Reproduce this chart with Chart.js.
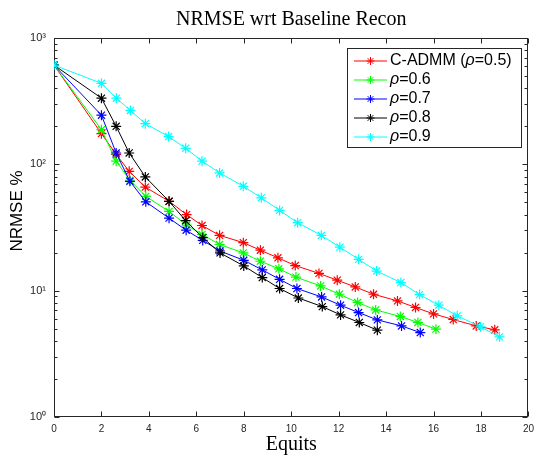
<!DOCTYPE html>
<html>
<head>
<meta charset="utf-8">
<script src="https://cdn.jsdelivr.net/npm/chart.js@4.4.0/dist/chart.umd.min.js"></script>
<style>
  html, body { margin: 0; padding: 0; background: #fff; }
  #wrap { width: 540px; height: 456px; }
</style>
</head>
<body>
<div id="wrap"><canvas id="nrmseChart" width="540" height="456"></canvas></div>
<script>
// data (x = equits, y = NRMSE %)
const seriesLabels = ["C-ADMM (ρ=0.5)", "ρ=0.6", "ρ=0.7", "ρ=0.8", "ρ=0.9"];
const seriesColors = ["#ff0000", "#00ff00", "#0000ff", "#000000", "#00ffff"];

const redX = [0, 2, 2.62, 3.17, 3.85, 4.85, 5.59, 6.24, 6.98, 7.98, 8.7, 9.44, 10.17, 11.17, 11.94, 12.7, 13.47, 14.48, 15.24, 16.0, 16.83, 17.8, 18.58];
const redY = [610, 175, 120, 88, 66, 51, 40, 32.8, 27.4, 24.0, 20.9, 18.2, 15.8, 13.7, 12.1, 10.7, 9.37, 8.3, 7.36, 6.55, 5.91, 5.26, 4.9];

const greenX = [0, 2, 2.62, 3.2, 3.87, 4.85, 5.59, 6.24, 6.98, 7.98, 8.7, 9.48, 10.2, 11.24, 12.03, 12.8, 13.56, 14.6, 15.34, 16.1];
const greenY = [610, 188, 106, 74.8, 55.8, 42.4, 33, 27.9, 23.2, 19.9, 17.1, 14.9, 12.8, 10.9, 9.37, 8.06, 7.04, 6.25, 5.6, 4.96];

const blueX = [0, 2, 2.62, 3.2, 3.87, 4.85, 5.57, 6.27, 7.0, 8.0, 8.78, 9.51, 10.24, 11.28, 12.08, 12.84, 13.63, 14.65, 15.44];
const blueY = [610, 245, 123, 73.4, 50.5, 37.5, 30.1, 25, 20.6, 17.4, 14.6, 12.3, 10.4, 8.92, 7.67, 6.71, 5.87, 5.26, 4.66];

const blackX = [0, 2, 2.62, 3.17, 3.85, 4.85, 5.55, 6.27, 7.0, 8.0, 8.78, 9.51, 10.3, 11.31, 12.08, 12.87, 13.63];
const blackY = [610, 334, 200, 123, 79.5, 51, 35.8, 26.3, 19.9, 15.7, 12.7, 10.4, 8.75, 7.48, 6.43, 5.6, 4.87];

const cyanX = [0, 2, 2.63, 3.22, 3.85, 4.83, 5.55, 6.24, 6.98, 7.98, 8.74, 9.51, 10.27, 11.27, 12.05, 12.84, 13.6, 14.62, 15.41, 16.22, 17.0, 17.98, 18.78];
const cyanY = [610, 438, 334, 267, 210, 166, 134, 106, 85.5, 67, 54.3, 43.2, 34.5, 27.4, 22.1, 17.7, 14.3, 11.6, 9.31, 7.67, 6.32, 5.17, 4.31];

const xTickValues = [0, 2, 4, 6, 8, 10, 12, 14, 16, 18, 20];
const yTickValues = [1, 10, 100, 1000];
const yTickLabels = ["10⁰", "10¹", "10²", "10³"];

const axisColor = "#262626";
const allX = [redX, greenX, blueX, blackX, cyanX];
const allY = [redY, greenY, blueY, blackY, cyanY];

const datasets = seriesLabels.map((label, i) => ({
    label,
    data: allX[i].map((x, j) => ({ x, y: allY[i][j] })),
    borderColor: seriesColors[i],
    backgroundColor: seriesColors[i],
    borderWidth: 1,
    pointStyle: "star",
    pointRadius: 5,
    pointBorderWidth: 1.2,
    pointBorderColor: seriesColors[i],
    tension: 0,
    order: seriesLabels.length - 1 - i   // later series drawn on top, like matlab
}));

// inward ticks + box
const axesBoxPlugin = {
    id: "axesBox",
    beforeDatasetsDraw(chart) {
        const { ctx, chartArea: a, scales: { x, y } } = chart;
        const L = Math.round(a.left) + 0.5, R = Math.round(a.right) - 0.5;
        const T = Math.round(a.top) + 0.5, B = Math.round(a.bottom) - 0.5;
        ctx.save();
        ctx.strokeStyle = axisColor;
        ctx.lineWidth = 1;
        ctx.beginPath();
        xTickValues.forEach(v => {
            const px = Math.round(x.getPixelForValue(v)) + 0.5;
            ctx.moveTo(px, B); ctx.lineTo(px, B - 5);
            ctx.moveTo(px, T); ctx.lineTo(px, T + 5);
        });
        yTickValues.forEach(v => {
            const py = Math.round(y.getPixelForValue(v)) + 0.5;
            ctx.moveTo(L, py); ctx.lineTo(L + 5, py);
            ctx.moveTo(R, py); ctx.lineTo(R - 5, py);
        });
        [1, 10, 100].forEach(dec => {
            for (let m = 2; m <= 9; m++) {
                const py = Math.round(y.getPixelForValue(dec * m)) + 0.5;
                ctx.moveTo(L, py); ctx.lineTo(L + 3, py);
                ctx.moveTo(R, py); ctx.lineTo(R - 3, py);
            }
        });
        ctx.stroke();
        ctx.strokeRect(L, T, R - L, B - T);
        ctx.restore();
    },
    afterDraw(chart) {
        const { ctx } = chart;
        ctx.save();
        // y axis title
        ctx.translate(17, 211);
        ctx.rotate(-Math.PI / 2);
        ctx.fillStyle = "#000";
        ctx.font = '17px "Liberation Sans"';
        ctx.textAlign = "center";
        ctx.textBaseline = "middle";
        ctx.fillText("NRMSE %", 0, 0);
        ctx.restore();
    }
};

// legend box inside the axes (top right)
const boxLegendPlugin = {
    id: "boxLegend",
    afterDraw(chart) {
        const { ctx } = chart;
        const bx = 347.5, by = 48.5, bw = 174, bh = 99;
        ctx.save();
        ctx.fillStyle = "#fff";
        ctx.fillRect(bx, by, bw, bh);
        ctx.strokeStyle = axisColor;
        ctx.lineWidth = 1;
        ctx.strokeRect(bx, by, bw, bh);
        chart.data.datasets.forEach((ds, i) => {
            const cy = 61 + i * 19;
            ctx.strokeStyle = ds.borderColor;
            ctx.lineWidth = 1;
            ctx.beginPath();
            ctx.moveTo(354, cy); ctx.lineTo(387, cy);
            ctx.stroke();
            Chart.helpers.drawPoint(ctx, { pointStyle: "star", radius: 4, borderWidth: 1 }, 370.5, cy);
            // text, with rho in italics
            ctx.fillStyle = "#000";
            ctx.textBaseline = "middle";
            ctx.textAlign = "left";
            let tx = 390;
            const parts = ds.label.split("ρ");
            parts.forEach((part, k) => {
                ctx.font = '16px "Liberation Sans"';
                ctx.fillText(part, tx, cy);
                tx += ctx.measureText(part).width;
                if (k < parts.length - 1) {
                    ctx.font = 'italic 16px "Liberation Sans"';
                    ctx.fillText("ρ", tx, cy);
                    tx += ctx.measureText("ρ").width;
                }
            });
        });
        ctx.restore();
    }
};

const ctx = document.getElementById("nrmseChart").getContext("2d");
new Chart(ctx, {
    type: "line",
    data: { datasets },
    options: {
        responsive: false,
        devicePixelRatio: 1,
        animation: false,
        events: [],
        layout: { padding: { left: 0, right: 5, top: 0, bottom: 0 } },
        plugins: {
            legend: { display: false },
            tooltip: { enabled: false },
            title: {
                display: true,
                fullSize: false,
                text: "NRMSE wrt Baseline Recon",
                color: "#000",
                font: { family: "Liberation Serif", size: 20, weight: "normal", lineHeight: 1.2 },
                padding: { top: 8, bottom: 6 }
            }
        },
        scales: {
            x: {
                type: "linear",
                min: 0,
                max: 20,
                grid: { display: false, drawTicks: false },
                border: { display: false },
                afterBuildTicks: scale => { scale.ticks = xTickValues.map(value => ({ value })); },
                ticks: {
                    color: axisColor,
                    padding: 6,
                    maxRotation: 0,
                    font: { family: "Liberation Sans", size: 10 }
                },
                title: {
                    display: true,
                    text: "Equits",
                    color: "#000",
                    font: { family: "Liberation Serif", size: 20, weight: "normal", lineHeight: 1.1 },
                    padding: { top: 0, bottom: 0 }
                },
                afterFit: scale => { scale.height = 39; }
            },
            y: {
                type: "logarithmic",
                min: 1,
                max: 1000,
                grid: { display: false, drawTicks: false },
                border: { display: false },
                afterBuildTicks: scale => { scale.ticks = yTickValues.map(value => ({ value })); },
                ticks: {
                    color: axisColor,
                    padding: 8,
                    font: { family: "Liberation Sans", size: 11 },
                    callback: (value) => yTickLabels[yTickValues.indexOf(value)]
                },
                afterFit: scale => { scale.width = 54; }
            }
        }
    },
    plugins: [axesBoxPlugin, boxLegendPlugin]
});
</script>
</body>
</html>
